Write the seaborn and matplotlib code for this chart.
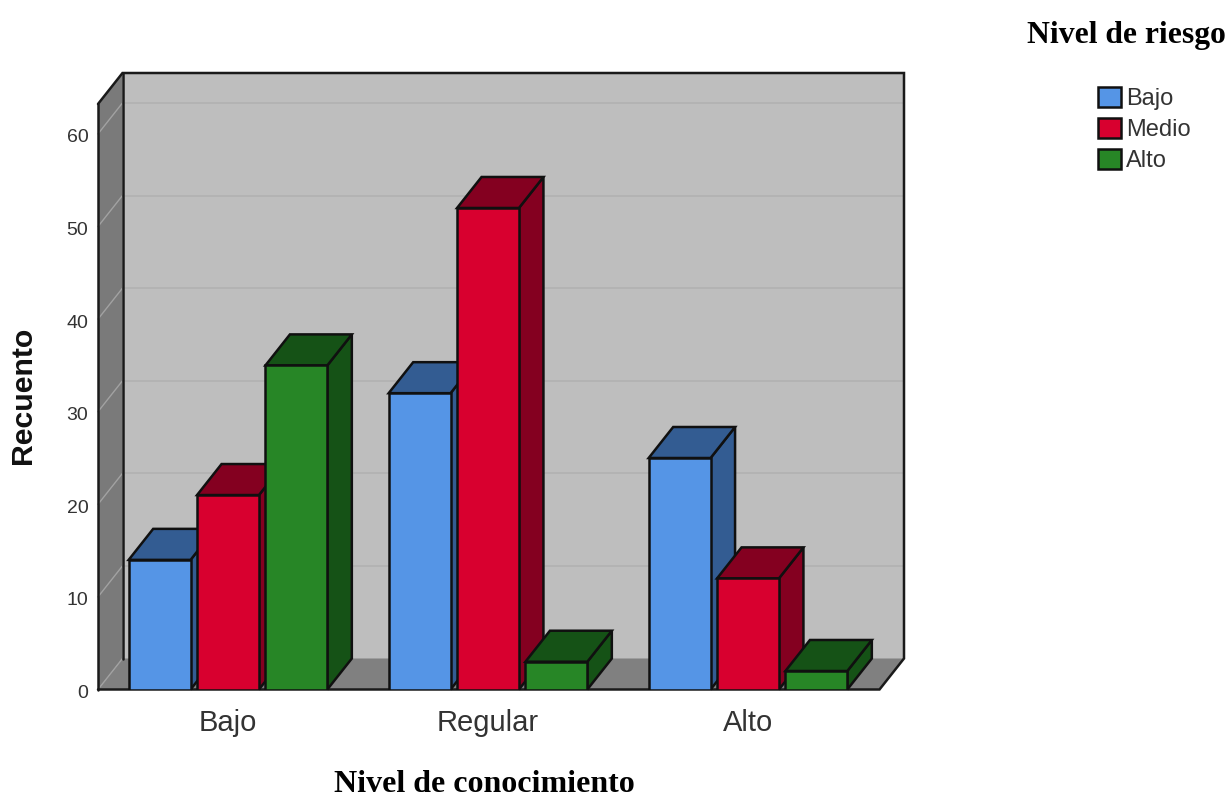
import matplotlib
matplotlib.use("Agg")
import matplotlib.pyplot as plt
import matplotlib.transforms as mtransforms
import pandas as pd
import seaborn as sns
from matplotlib.patches import Polygon

# Counts by knowledge level and risk level
niveles_conocimiento = ["Bajo", "Regular", "Alto"]
niveles_riesgo = ["Bajo", "Medio", "Alto"]
riesgo_bajo = [14, 32, 25]
riesgo_medio = [21, 52, 12]
riesgo_alto = [35, 3, 2]

colores_frente = ["#5595e6", "#d8002f", "#278626"]
colores_lado = ["#335c92", "#840020", "#155216"]
marcas_y = [0, 10, 20, 30, 40, 50, 60]

conteos = pd.DataFrame({
    "conocimiento": niveles_conocimiento * 3,
    "riesgo": [r for r in niveles_riesgo for _ in niveles_conocimiento],
    "recuento": riesgo_bajo + riesgo_medio + riesgo_alto,
})

sns.set_theme(style="white")
plt.rcParams["font.family"] = ["Liberation Sans", "DejaVu Sans"]

W, H = 1230, 797
fig = plt.figure(figsize=(W / 100, H / 100), dpi=100)
ax = fig.add_axes([98 / W, 1 - 689.5 / H, (904 - 98) / W, (689.5 - 73) / H])
ax.patch.set_visible(False)
for spine in ax.spines.values():
    spine.set_visible(False)

grosor = 1.8
sns.barplot(
    data=conteos, x="conocimiento", y="recuento", hue="riesgo",
    order=niveles_conocimiento, hue_order=niveles_riesgo,
    palette=colores_frente, width=0.789, gap=0.095, saturation=1,
    edgecolor="#101010", linewidth=grosor, errorbar=None, legend=True, ax=ax,
)

# Oblique depth of the box, in data units
por_categoria = 260.0
por_unidad = 9.26
xmin = -(228 - 98) / por_categoria
xmax = (904 - 228) / por_categoria
ytop = (689.5 - 73) / por_unidad
dx = 24.5 / por_categoria
dy = 31 / por_unidad
x_frente = xmax - dx
y_techo = ytop - dy
ax.set_xlim(xmin, xmax)
ax.set_ylim(0, ytop)


def cara(puntos, color, borde="none", lw=0.0, z=1.0):
    ax.add_patch(Polygon(puntos, closed=True, facecolor=color, edgecolor=borde,
                         linewidth=lw, zorder=z, clip_on=False, joinstyle="miter"))


# Box walls
cara([(xmin + dx, dy), (xmax, dy), (xmax, ytop), (xmin + dx, ytop)], "#bebebe", z=0.1)
cara([(xmin, 0), (xmin + dx, dy), (xmin + dx, ytop), (xmin, y_techo)], "#7a7a7a", z=0.1)
cara([(xmin, 0), (x_frente, 0), (xmax, dy), (xmin + dx, dy)], "#808080", z=0.1)

# Gridlines run along the back wall and fold down the left wall
for valor in marcas_y[1:]:
    ax.plot([xmin + dx, xmax], [valor + dy] * 2, color="#b2b2b2", lw=1.3, zorder=0.2, clip_on=False)
    ax.plot([xmin, xmin + dx], [valor, valor + dy], color="#a2a2a2", lw=1.0, zorder=0.2, clip_on=False)
ax.plot([xmin, xmin + dx], [0, dy], color="#a2a2a2", lw=1.0, zorder=0.2, clip_on=False)

# Box outlines
negro = dict(color="#1a1a1a", lw=grosor, zorder=0.3, clip_on=False, solid_joinstyle="miter")
ax.plot([xmin + dx, xmin + dx], [dy, ytop], **negro)
ax.plot([xmin, xmin], [0, y_techo], **negro)
ax.plot([xmin, xmin + dx, xmax, xmax, x_frente, xmin],
        [y_techo, ytop, ytop, dy, 0, 0], **negro)

# Extrude each bar, painting left to right so nearer faces overlap
barras = []
for contenedor, lado in zip(ax.containers, colores_lado):
    barras += [(barra, lado) for barra in contenedor]
barras.sort(key=lambda par: par[0].get_x())
for i, (barra, lado) in enumerate(barras):
    x0, ancho, alto = barra.get_x(), barra.get_width(), barra.get_height()
    x1 = x0 + ancho
    z = 2 + i
    cara([(x1, 0), (x1 + dx, dy), (x1 + dx, alto + dy), (x1, alto)], lado, "#101010", grosor, z)
    cara([(x0, alto), (x0 + dx, alto + dy), (x1 + dx, alto + dy), (x1, alto)], lado, "#101010", grosor, z)
    barra.set_zorder(z + 0.5)

# Axis text
ax.set_xlabel("")
ax.set_ylabel("")
ax.set_yticks(marcas_y)
ax.tick_params(axis="y", length=0, pad=7, labelsize=14, labelcolor="#333333")
ax.tick_params(axis="x", length=0, pad=14, labelsize=21, labelcolor="#333333")
bajar = mtransforms.ScaledTranslation(0, -2 / 100, fig.dpi_scale_trans)
for etiqueta in ax.get_yticklabels():
    etiqueta.set_transform(etiqueta.get_transform() + bajar)

fig.text(23 / W, 1 - 395 / H, "Recuento", rotation=90, ha="center", va="center",
         fontsize=21.8, fontweight="bold", color="#111111")
fig.text(484 / W, 1 - 784.5 / H, "Nivel de conocimiento", ha="center", va="center",
         fontsize=23, fontweight="bold", family="Liberation Serif", color="black")
fig.text(1126 / W, 1 - 35 / H, "Nivel de riesgo", ha="center", va="center",
         fontsize=22.8, fontweight="bold", family="Liberation Serif", color="black")

# Legend placed in the right margin
manijas, etiquetas = ax.get_legend_handles_labels()
ax.get_legend().remove()
fig.legend(manijas, etiquetas, loc="upper left", bbox_to_anchor=(1091 / W, 1 - 79.5 / H),
           frameon=False, fontsize=17, labelcolor="#333333",
           handlelength=0.97, handleheight=0.97, handletextpad=0.2,
           labelspacing=0.32, borderpad=0.3, borderaxespad=0)

fig.savefig("out.png", dpi=100, facecolor="white")
